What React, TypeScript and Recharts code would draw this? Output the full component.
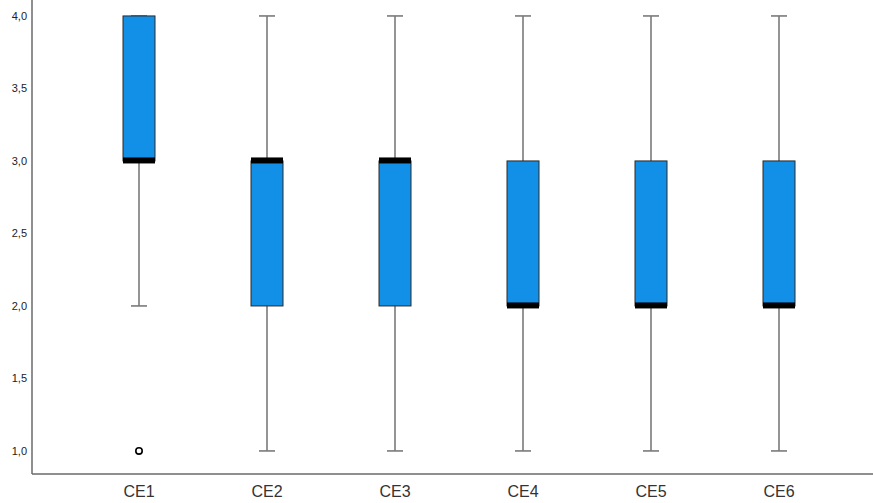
import React from "react";
import { ComposedChart, Bar, Scatter, XAxis, YAxis } from "recharts";

const categories = ["CE1", "CE2", "CE3", "CE4", "CE5", "CE6"];
const whiskerLow = [2, 1, 1, 1, 1, 1];
const q1 = [3, 2, 2, 2, 2, 2];
const medians = [3, 3, 3, 2, 2, 2];
const q3 = [4, 3, 3, 3, 3, 3];
const whiskerHigh = [4, 4, 4, 4, 4, 4];
const outliers: (number | null)[] = [1, null, null, null, null, null];
const yTicks = [1, 1.5, 2, 2.5, 3, 3.5, 4];

const data = categories.map((c, i) => ({
  name: c,
  range: [whiskerLow[i], whiskerHigh[i]],
  min: whiskerLow[i],
  q1: q1[i],
  median: medians[i],
  q3: q3[i],
  max: whiskerHigh[i],
  outlier: outliers[i],
}));

const BoxShape = (props: any) => {
  const { x, y, width, height, payload } = props;
  const { min, max, q1: b1, q3: b3, median } = payload;
  const span = max - min;
  const py = (v: number) => y + (height * (max - v)) / span;
  const cx = x + width / 2;
  const capW = 16;
  return (
    <g>
      <line x1={cx} x2={cx} y1={py(max)} y2={py(min)} stroke="#7a7a7a" strokeWidth={1.6} />
      <line x1={cx - capW / 2} x2={cx + capW / 2} y1={py(max)} y2={py(max)} stroke="#7a7a7a" strokeWidth={1.6} />
      <line x1={cx - capW / 2} x2={cx + capW / 2} y1={py(min)} y2={py(min)} stroke="#7a7a7a" strokeWidth={1.6} />
      <rect
        x={x}
        y={py(b3)}
        width={width}
        height={py(b1) - py(b3)}
        fill="#128fe6"
        stroke="#2a2a2a"
        strokeWidth={1}
      />
      <rect x={x} y={py(median) - 3.5} width={width} height={6} fill="#000000" />
    </g>
  );
};

const OutlierShape = (props: any) => {
  const { cx, cy, payload } = props;
  if (payload.outlier == null) return <g />;
  return <circle cx={cx} cy={cy} r={3.2} fill="#ffffff" stroke="#000000" strokeWidth={1.6} />;
};

export default function App() {
  return (
    <div style={{ position: "absolute", left: 0, top: 0, background: "#ffffff" }}>
      <ComposedChart
        width={873}
        height={503}
        data={data}
        margin={{ top: 0, right: 0, bottom: 0, left: 0 }}
        barSize={32}
      >
        <XAxis
          dataKey="name"
          height={29}
          padding={{ left: 43, right: 30 }}
          tickLine={false}
          tickSize={0}
          tickMargin={12}
          stroke="#6a6a6a"
          strokeWidth={1.5}
          tick={{ fill: "#333333", fontSize: 16, fontFamily: "Liberation Sans, Arial, sans-serif" }}
        />
        <YAxis
          width={32}
          domain={[0.841, 4.11]}
          allowDataOverflow
          ticks={yTicks}
          tickFormatter={(v: number) => v.toFixed(1).replace(".", ",")}
          tickLine={false}
          tickSize={0}
          tickMargin={5}
          stroke="#6a6a6a"
          strokeWidth={1.5}
          tick={{ fill: "#222222", fontSize: 11, fontFamily: "Liberation Sans, Arial, sans-serif" }}
        />
        <Bar dataKey="range" shape={<BoxShape />} isAnimationActive={false} />
        <Scatter dataKey="outlier" shape={<OutlierShape />} isAnimationActive={false} />
      </ComposedChart>
    </div>
  );
}
